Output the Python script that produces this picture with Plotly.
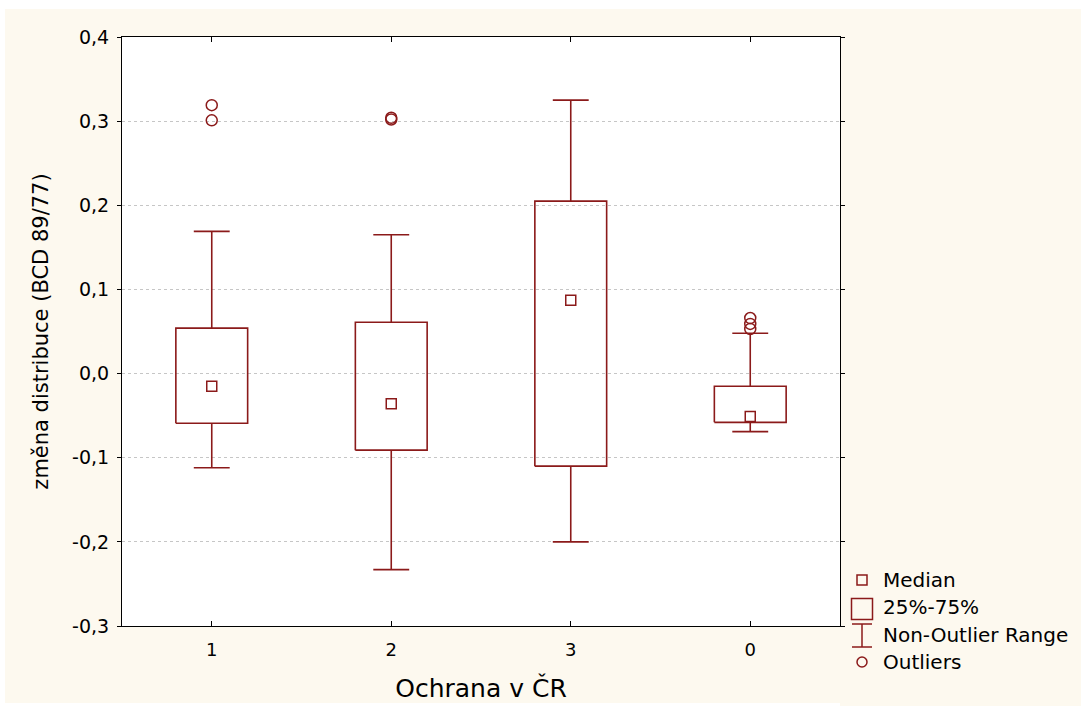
import plotly.graph_objects as go

# ---------------- data ----------------
categories = ["1", "2", "3", "0"]
median = [-0.015, -0.036, 0.087, -0.051]
q1 = [-0.059, -0.091, -0.110, -0.058]
q3 = [0.054, 0.061, 0.205, -0.015]
whisker_low = [-0.112, -0.233, -0.200, -0.069]
whisker_high = [0.169, 0.165, 0.325, 0.048]
outliers = [[0.319, 0.301], [0.304, 0.302], [], [0.066, 0.059, 0.053]]

y_tickvals = [-0.3, -0.2, -0.1, 0.0, 0.1, 0.2, 0.3, 0.4]
y_ticktext = ["-0,3", "-0,2", "-0,1", "0,0", "0,1", "0,2", "0,3", "0,4"]

legend_labels = ["Median", "25%-75%", "Non-Outlier Range", "Outliers"]

# ---------------- style ----------------
RED = "#8B1A1A"
CREAM = "#FDF9EF"
FONT = "DejaVu Sans"
BOX_HALF = 0.2
CAP_HALF = 0.1

fig = go.Figure()

pos = list(range(len(categories)))

# boxes
bx, by = [], []
for i in pos:
    bx += [i - BOX_HALF, i + BOX_HALF, i + BOX_HALF, i - BOX_HALF, i - BOX_HALF, None]
    by += [q1[i], q1[i], q3[i], q3[i], q1[i], None]
fig.add_trace(go.Scatter(x=bx, y=by, mode="lines", line=dict(color=RED, width=1.6),
                         hoverinfo="skip", showlegend=False))

# whiskers
wx, wy = [], []
for i in pos:
    wx += [i, i, None, i - CAP_HALF, i + CAP_HALF, None]
    wy += [q3[i], whisker_high[i], None, whisker_high[i], whisker_high[i], None]
    wx += [i, i, None, i - CAP_HALF, i + CAP_HALF, None]
    wy += [q1[i], whisker_low[i], None, whisker_low[i], whisker_low[i], None]
fig.add_trace(go.Scatter(x=wx, y=wy, mode="lines", line=dict(color=RED, width=1.6),
                         hoverinfo="skip", showlegend=False))

# medians
fig.add_trace(go.Scatter(x=pos, y=median, mode="markers",
                         marker=dict(symbol="square-open", size=10, color=RED,
                                     line=dict(color=RED, width=1.5)),
                         showlegend=False))

# outliers
ox, oy = [], []
for i in pos:
    for v in outliers[i]:
        ox.append(i)
        oy.append(v)
fig.add_trace(go.Scatter(x=ox, y=oy, mode="markers",
                         marker=dict(symbol="circle-open", size=11, color=RED,
                                     line=dict(color=RED, width=1.5)),
                         showlegend=False))

# ---------------- custom legend (pixel-like coords on hidden axes) ----------------
leg_x = 862
leg_rows = [580, 607, 635, 662]
fig.add_trace(go.Scatter(x=[leg_x], y=[leg_rows[0]], mode="markers", xaxis="x2", yaxis="y2",
                         marker=dict(symbol="square-open", size=10, color=RED,
                                     line=dict(color=RED, width=1.5)), showlegend=False))
fig.add_trace(go.Scatter(x=[leg_x], y=[leg_rows[1] + 2], mode="markers", xaxis="x2", yaxis="y2",
                         marker=dict(symbol="square-open", size=21, color=RED,
                                     line=dict(color=RED, width=1.5)), showlegend=False))
fig.add_trace(go.Scatter(x=[leg_x, leg_x, None, leg_x - 10, leg_x + 10, None, leg_x - 10, leg_x + 10],
                         y=[624, 647, None, 624, 624, None, 647, 647],
                         mode="lines", xaxis="x2", yaxis="y2",
                         line=dict(color=RED, width=1.5), showlegend=False))
fig.add_trace(go.Scatter(x=[leg_x], y=[leg_rows[3]], mode="markers", xaxis="x2", yaxis="y2",
                         marker=dict(symbol="circle-open", size=10, color=RED,
                                     line=dict(color=RED, width=1.5)), showlegend=False))
for lbl, yy in zip(legend_labels, leg_rows):
    fig.add_annotation(x=881, y=yy, xref="x2", yref="y2", text=lbl, showarrow=False,
                       xanchor="left", yanchor="middle", font=dict(family=FONT, size=20, color="black"))

# ---------------- layout ----------------
W, H = 1081, 706
L, R, T, B = 122, 0, 37, 0
plot_w = W - L - R
plot_h = H - T - B
main_right = 840
main_bottom = 626
main_end = (main_right - L) / plot_w
main_start_y = (H - main_bottom) / plot_h

fig.update_layout(
    width=W, height=H,
    margin=dict(l=L, r=R, t=T, b=B, autoexpand=False),
    paper_bgcolor="white",
    plot_bgcolor=CREAM,
    font=dict(family=FONT, color="black"),
    showlegend=False,
    xaxis=dict(domain=[0, main_end], range=[-0.5, len(categories) - 0.5],
               tickvals=pos, ticktext=categories,
               ticks="inside", ticklen=5, tickwidth=1, tickcolor="black",
               showline=True, linecolor="black", linewidth=1, mirror="ticks",
               showgrid=False, zeroline=False,
               tickfont=dict(family=FONT, size=18, color="black"),
               ticklabelstandoff=7,
               title=dict(text="Ochrana v ČR", font=dict(family=FONT, size=25, color="black"),
                          standoff=20),
               automargin=False, anchor="y"),
    yaxis=dict(domain=[main_start_y, 1], range=[-0.3, 0.4], tickvals=y_tickvals, ticktext=y_ticktext,
               ticks="outside", ticklen=4, tickwidth=1, tickcolor="black",
               showline=True, linecolor="black", linewidth=1, mirror="ticks",
               showgrid=True, gridcolor="#c6c6c6", griddash="dot", gridwidth=1,
               zeroline=False,
               tickfont=dict(family=FONT, size=19, color="black"),
               ticklabelstandoff=4,
               title=dict(text="změna distribuce (BCD 89/77)",
                          font=dict(family=FONT, size=21, color="black"), standoff=17),
               automargin=False, anchor="x"),
    xaxis2=dict(domain=[main_end, 1], range=[main_right, W], visible=False, fixedrange=True, anchor="y2"),
    yaxis2=dict(domain=[0, 1], range=[H, T], visible=False, fixedrange=True, anchor="x2"),
    shapes=[
        dict(type="rect", xref="paper", yref="paper",
             x0=(5 - L) / plot_w, x1=1.01, y0=(H - 703) / plot_h, y1=(H - 9) / plot_h,
             fillcolor=CREAM, line=dict(width=0), layer="below"),
        dict(type="rect", xref="x domain", yref="y domain", x0=0, x1=1, y0=0, y1=1,
             fillcolor="white", line=dict(width=0), layer="below"),
    ],
)

fig.write_html("out.html", config={"displayModeBar": False},
               post_script="document.body.style.margin='0';document.body.style.overflow='hidden';")
